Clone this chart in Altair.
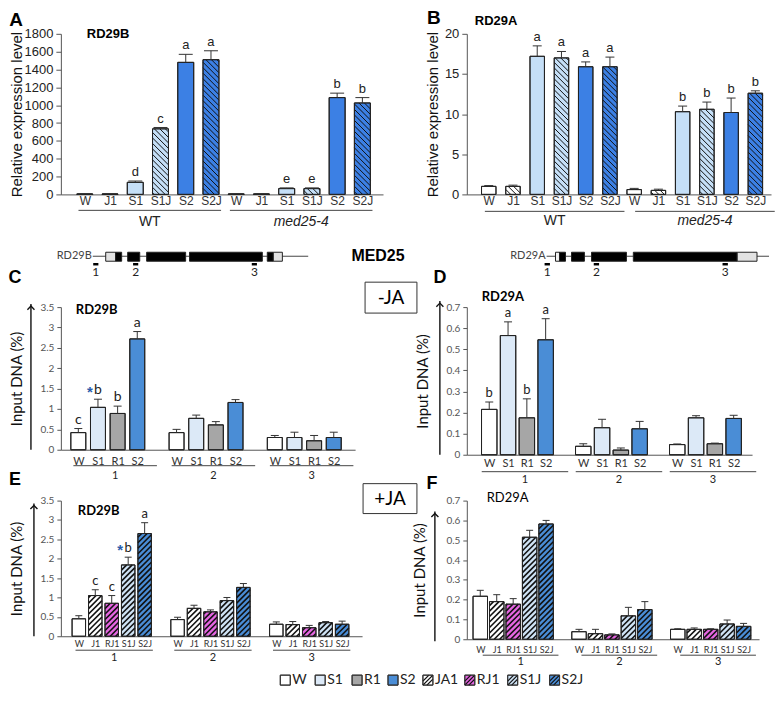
import altair as alt
import pandas as pd
import numpy as np

# ---------------- data ----------------
AB_CONDS = ["W", "J1", "S1", "S1J", "S2", "S2J"]
GENOTYPES = ["WT", "med25-4"]

A_VALS = [5, 5, 135, 735, 1480, 1510, 5, 5, 65, 65, 1085, 1025]
A_ERR = [3, 3, 15, 15, 90, 100, 3, 3, 8, 8, 50, 60]
A_LETTERS = ["", "", "d", "c", "a", "a", "", "", "e", "e", "b", "b"]

B_VALS = [1.0, 1.0, 17.2, 17.0, 15.9, 15.9, 0.6, 0.5, 10.3, 10.6, 10.2, 12.6]
B_ERR = [0.1, 0.15, 1.3, 0.8, 0.6, 1.2, 0.15, 0.15, 0.7, 0.9, 1.8, 0.3]
B_LETTERS = ["", "", "a", "a", "a", "a", "", "", "b", "b", "b", "b"]

CD_CONDS = ["W", "S1", "R1", "S2"]
REGIONS = ["1", "2", "3"]
C_VALS = [0.42, 1.04, 0.89, 2.72, 0.42, 0.77, 0.61, 1.16, 0.30, 0.30, 0.22, 0.30]
C_ERR = [0.10, 0.20, 0.18, 0.18, 0.08, 0.08, 0.08, 0.07, 0.05, 0.13, 0.13, 0.13]
C_LETTERS = ["c", "b", "b", "a"] + [""] * 8
C_STARS = [0, 1, 0, 0] + [0] * 8

D_VALS = [0.215, 0.565, 0.175, 0.545, 0.040, 0.128, 0.022, 0.123, 0.048, 0.175, 0.052, 0.172]
D_ERR = [0.035, 0.065, 0.09, 0.10, 0.012, 0.04, 0.01, 0.035, 0.003, 0.01, 0.003, 0.015]
D_LETTERS = ["b", "a", "b", "a"] + [""] * 8
D_STARS = [0] * 12

EF_CONDS = ["W", "J1", "RJ1", "S1J", "S2J"]
E_VALS = [0.45, 1.05, 0.85, 1.84, 2.65, 0.43, 0.72, 0.63, 0.92, 1.26, 0.31, 0.30, 0.22, 0.35, 0.31]
E_ERR = [0.08, 0.15, 0.20, 0.20, 0.28, 0.06, 0.08, 0.05, 0.08, 0.10, 0.06, 0.08, 0.06, 0.03, 0.08]
E_LETTERS = ["", "c", "c", "b", "a"] + [""] * 10
E_STARS = [0, 0, 0, 1, 0] + [0] * 10

F_VALS = [0.217, 0.19, 0.177, 0.515, 0.582, 0.038, 0.028, 0.022, 0.118, 0.15, 0.05, 0.05, 0.05, 0.077, 0.065]
F_ERR = [0.03, 0.035, 0.028, 0.035, 0.018, 0.012, 0.022, 0.005, 0.043, 0.04, 0.003, 0.007, 0.003, 0.02, 0.015]
F_LETTERS = [""] * 15
F_STARS = [0] * 15

LEGEND_KEYS = ["W", "S1", "R1", "S2", "JA1", "RJ1", "S1J", "S2J"]
LEGEND_COLORS = ["#ffffff", "#dce9f7", "#a6a6a6", "#4a8dd6", "#ffffff", "#e666e2", "#cfe3f5", "#4a8dd6"]
LEGEND_X = [220, 255, 292, 328, 363, 405, 448, 490]   # legend item placement (px)
AB_COLORS = {"W": "#ffffff", "J1": "#ffffff", "S1": "#c5dff7", "S1J": "#c5dff7", "S2": "#3c80e4", "S2J": "#3c80e4"}
COND_KEY = {"W": "W", "J1": "JA1", "S1": "S1", "S1J": "S1J", "S2": "S2", "S2J": "S2J", "R1": "R1", "RJ1": "RJ1"}
HATCHED = ["JA1", "RJ1", "S1J", "S2J"]

# gene models (relative position along gene line, 0-100)
RD29B_START = [6.0, 10.6, 16.2, 25.0, 44.9, 81.0, 83.8]
RD29B_END = [10.6, 13.4, 21.8, 43.1, 78.7, 83.8, 88.0]
RD29B_KIND = ["utr", "cds", "cds", "cds", "cds", "cds", "utr"]
RD29B_PRIMERS = [1.4, 19.9, 75.0]
RD29A_START = [4.0, 5.8, 11.2, 20.2, 39.0, 85.7]
RD29A_END = [5.8, 8.5, 17.0, 35.9, 85.7, 94.6]
RD29A_KIND = ["utrw", "cds", "cds", "cds", "cds", "utr"]
RD29A_PRIMERS = [0.3, 22.4, 80.3]

FONT_AB = "Liberation Sans"
FONT_CF = "Lato"
ONE = pd.DataFrame({"a": [0]})
KEY_COLOR = dict(zip(LEGEND_KEYS, LEGEND_COLORS))


def txt(text, x, y, **kw):
    return alt.Chart(ONE).mark_text(text=text, **kw).encode(x=alt.value(x), y=alt.value(y))


def arrow(x, y_top, y_bot):
    line = alt.Chart(ONE).mark_rule(color="#111", strokeWidth=1.4).encode(
        x=alt.value(x), y=alt.value(y_bot), y2=alt.value(y_top + 1))
    head = alt.Chart(ONE).mark_point(shape="M -1 1 L 0 0 L 1 1", filled=False, size=50,
                                     color="#111", strokeWidth=1.4, opacity=1).encode(
        x=alt.value(x), y=alt.value(y_top + 3))
    return [line, head]


def box(x0, x1, y0, y1):
    return alt.Chart(ONE).mark_rect(fill="white", stroke="#333", strokeWidth=1).encode(
        x=alt.value(x0), x2=alt.value(x1), y=alt.value(y0), y2=alt.value(y1))


def bar_panel(conds, gstride, vals, errs, letters, stars, cfg, groups, deco):
    nper = len(conds)
    left, width, first, stride, height = cfg["left"], cfg["width"], cfg["first"], cfg["stride"], cfg["height"]
    d0 = -(first - left) / stride
    d1 = d0 + width / stride
    ymax = cfg["ymax"]
    kx, ky = stride, height / ymax
    half = cfg["bar"] / 2 / stride
    caph = cfg["cap"] / 2 / stride
    cmap = cfg["colors"]
    recs = []
    for k, (v, e) in enumerate(zip(vals, errs)):
        g, i = divmod(k, nper)
        pos = g * gstride + i
        c = conds[i]
        recs.append(dict(pos=pos, cond=c, key=COND_KEY[c], col=cmap(c),
                         v=v, base=0.0, top=v + e, x0=pos - half, x1=pos + half,
                         c0=pos - caph, c1=pos + caph, letter=letters[k],
                         star="*" if stars[k] else ""))
    df = pd.DataFrame(recs)

    # hatch segments derived from the bars
    hrecs = []
    s = cfg["hsp"]
    for r in recs:
        if r["key"] not in HATCHED:
            continue
        X0 = (r["x0"] - d0) * kx
        X1 = (r["x1"] - d0) * kx
        H = r["v"] * ky
        if cfg["hdir"] == "/":
            c = np.floor((-X1) / s) * s
            while c <= H - X0:
                xa, xb = max(X0, -c), min(X1, H - c)
                if xb > xa:
                    hrecs.append((xa, xa + c, xb, xb + c))
                c += s
        else:
            c = np.floor(X0 / s) * s
            while c <= X1 + H:
                xa, xb = max(X0, c - H), min(X1, c)
                if xb > xa:
                    hrecs.append((xa, c - xa, xb, c - xb))
                c += s
    hdf = pd.DataFrame([dict(hx0=a / kx + d0, hy0=b / ky, hx1=cc / kx + d0, hy1=dd / ky)
                        for a, b, cc, dd in hrecs])

    xs = alt.Scale(domain=[d0, d1], nice=False, zero=False)
    ys = alt.Scale(domain=[0, ymax], nice=False, zero=True)
    font = cfg["font"]
    maxpos = int(df.pos.max())
    arr = [""] * (maxpos + 1)
    for p, c in zip(df.pos, df.cond):
        arr[int(p)] = c
    expr = "[" + ",".join("'%s'" % a for a in arr) + "][round(datum.value)]"
    xaxis = alt.Axis(values=[int(p) for p in df.pos], labelExpr=expr, title=None, ticks=False,
                     tickSize=0, grid=False, labelAngle=0, labelFlush=False, labelOverlap=False,
                     labelPadding=cfg["xpad"], labelFont=font, labelFontSize=cfg["xfs"],
                     labelColor="#333", domainColor="#555", labelBound=False)
    yaxis = alt.Axis(values=cfg["yticks"], labelExpr="'' + datum.value", title=cfg["ytitle"],
                     titleX=cfg["titlex"], titleBaseline="middle", titleFont=font,
                     titleFontSize=cfg["tfs"], titleFontWeight="normal", titleColor="#111",
                     labelFont=font, labelFontSize=cfg["yfs"], labelColor=cfg["ycol"],
                     tickSize=cfg["ytick"], tickColor="#555", domainColor="#555", grid=False,
                     labelPadding=3, labelOverlap=False, labelFlush=False, labelBound=False)
    fill = alt.Fill("col:N", scale=None)

    X = lambda f: alt.X(f, scale=xs, axis=xaxis)
    Y = lambda f: alt.Y(f, scale=ys, axis=yaxis)
    layers = [
        alt.Chart(df).mark_rect(stroke="#222", strokeWidth=1).encode(
            x=X("x0:Q"), x2="x1:Q", y=Y("v:Q"), y2="base:Q", fill=fill)
    ]
    if len(hdf):
        layers.append(alt.Chart(hdf).mark_rule(color="#111", strokeWidth=cfg["hw"]).encode(
            x=X("hx0:Q"), x2="hx1:Q", y=Y("hy0:Q"), y2="hy1:Q"))
    layers.append(alt.Chart(df).mark_rect(fillOpacity=0, stroke="#222", strokeWidth=1).encode(
        x=X("x0:Q"), x2="x1:Q", y=Y("v:Q"), y2="base:Q"))
    layers.append(alt.Chart(df).mark_rule(color="#333", strokeWidth=1).encode(
        x=X("pos:Q"), y=Y("v:Q"), y2="top:Q"))
    layers.append(alt.Chart(df).mark_rule(color="#333", strokeWidth=1).encode(
        x=X("c0:Q"), x2="c1:Q", y=Y("top:Q")))
    layers.append(alt.Chart(df).mark_text(baseline="bottom", dy=-2, font=font, fontSize=cfg["lfs"],
                                          color="#222").encode(x=X("pos:Q"), y=Y("top:Q"), text="letter:N"))
    layers.append(alt.Chart(df).mark_text(baseline="bottom", dx=-8, dy=1, fontSize=15,
                                          fontWeight="bold", color="#2a5caa").encode(
        x=X("pos:Q"), y=Y("top:Q"), text="star:N"))
    gdf = pd.DataFrame(groups)
    layers.append(alt.Chart(gdf).mark_rule(color="#444", strokeWidth=1).encode(
        x=X("gs:Q"), x2="ge:Q", y=alt.value(height + cfg["gl"])))
    for style in ["normal", "italic"]:
        sub = gdf[gdf["style"] == style]
        if len(sub):
            layers.append(alt.Chart(sub).mark_text(font=font, fontSize=cfg["gfs"], color="#222",
                                                   baseline="middle", fontStyle=style).encode(
                x=X("gc:Q"), y=alt.value(height + cfg["gt"]), text="name:N"))
    layers += deco
    return alt.layer(*layers).properties(width=width, height=height)


def groups_from(starts, ends, names, styles=None):
    out = []
    for k, (a, b, n) in enumerate(zip(starts, ends, names)):
        out.append(dict(gs=a, ge=b, gc=(a + b) / 2, name=n, style=(styles[k] if styles else "normal")))
    return out


ab_col = lambda c: AB_COLORS[c]
cf_col = lambda c: KEY_COLOR[COND_KEY[c]]

# ---------------- panels ----------------
cfgA = dict(left=60, width=323, first=84, stride=25.3, height=161, ymax=1800,
            yticks=list(range(0, 1801, 200)), bar=16, cap=14, hdir="\\", hsp=5.5, hw=1.0,
            font=FONT_AB, xfs=12, xpad=1, yfs=13, ycol="#222", ytick=5, tfs=15,
            ytitle="Relative expression level", titlex=-44, lfs=13, gl=16, gt=28, gfs=14, colors=ab_col)
A = bar_panel(AB_CONDS, 6, A_VALS, A_ERR, A_LETTERS, [0] * 12, cfgA,
              groups_from([-0.25, 5.75], [5.4, 11.4], GENOTYPES, ["normal", "italic"]),
              [txt("RD29B", 26, 0, align="left", baseline="middle", font=FONT_AB, fontSize=13, fontWeight="bold"),
               txt("A", -45, -14, align="center", baseline="middle", font=FONT_AB, fontSize=19, fontWeight="bold")])

cfgB = dict(cfgA, left=467, width=305, first=489, stride=24.3, ymax=20, yticks=[0, 5, 10, 15, 20],
            bar=14.5, cap=9, titlex=-34, gl=17, gt=27)
B = bar_panel(AB_CONDS, 6, B_VALS, B_ERR, B_LETTERS, [0] * 12, cfgB,
              groups_from([-0.16, 6.04], [5.6, 11.8], GENOTYPES, ["normal", "italic"]),
              [txt("RD29A", 8, -13, align="left", baseline="middle", font=FONT_AB, fontSize=13, fontWeight="bold"),
               txt("B", -33, -16, align="center", baseline="middle", font=FONT_AB, fontSize=19, fontWeight="bold")])

cfgC = dict(left=60, width=295, first=77.5, stride=19.7, height=143, ymax=3.5,
            yticks=[0, 0.5, 1, 1.5, 2, 2.5, 3, 3.5], bar=15, cap=8, hdir="/", hsp=5.5, hw=1.6,
            font=FONT_CF, xfs=11, xpad=6, yfs=10, ycol="#555", ytick=4, tfs=15,
            ytitle="Input DNA (%)", titlex=-44, lfs=14, gl=16, gt=26, gfs=11, colors=cf_col)
C = bar_panel(CD_CONDS, 5, C_VALS, C_ERR, C_LETTERS, C_STARS, cfgC,
              groups_from([-0.25, 4.75, 9.75], [4.0, 9.0, 14.0], REGIONS),
              [txt("RD29B", 15, 3, align="left", baseline="middle", font=FONT_CF, fontSize=13, fontWeight="bold"),
               txt("C", -46, -29, align="center", baseline="middle", font=FONT_AB, fontSize=18, fontWeight="bold"),
               box(305, 357, -25, 6),
               txt("-JA", 331, -9, align="center", baseline="middle", font=FONT_CF, fontSize=19)]
              + arrow(-30, -4, 143))

cfgD = dict(cfgC, left=467, width=286, first=489.5, stride=18.85, height=148, ymax=0.7,
            yticks=[0, 0.1, 0.2, 0.3, 0.4, 0.5, 0.6, 0.7], bar=15.5, xpad=2.5, titlex=-44,
            lfs=13, gl=17, gt=25)
D = bar_panel(CD_CONDS, 5, D_VALS, D_ERR, D_LETTERS, D_STARS, cfgD,
              groups_from([-0.4, 4.6, 9.6], [4.2, 9.2, 14.2], REGIONS),
              [txt("RD29A", 15, -10, align="left", baseline="middle", font=FONT_CF, fontSize=13, fontWeight="bold"),
               txt("D", -27, -29, align="center", baseline="middle", font=FONT_AB, fontSize=18, fontWeight="bold")]
              + arrow(-27, -7, 148))

cfgE = dict(cfgC, left=60, width=302, first=78, stride=16.5, height=136, ymax=3.5, bar=13.5,
            cap=7, xfs=9, xpad=3, titlex=-44, lfs=13, gl=14, gt=22)
E = bar_panel(EF_CONDS, 6, E_VALS, E_ERR, E_LETTERS, E_STARS, cfgE,
              groups_from([-0.2, 5.8, 11.8], [4.5, 10.5, 16.5], REGIONS),
              [txt("RD29B", 17, 10, align="left", baseline="middle", font=FONT_CF, fontSize=13, fontWeight="bold"),
               txt("E", -46, -21, align="center", baseline="middle", font=FONT_AB, fontSize=18, fontWeight="bold"),
               box(303, 357, -17, 13),
               txt("+JA", 330, -2, align="center", baseline="middle", font=FONT_CF, fontSize=19)]
              + arrow(-27, 2, 136))

cfgF = dict(cfgE, left=467, width=293, first=480.5, stride=16.5, height=139, ymax=0.7,
            yticks=[0, 0.1, 0.2, 0.3, 0.4, 0.5, 0.6, 0.7], bar=14.5, xpad=6, titlex=-47, gl=16, gt=23)
F = bar_panel(EF_CONDS, 6, F_VALS, F_ERR, F_LETTERS, F_STARS, cfgF,
              groups_from([0.15, 6.15, 12.15], [4.75, 10.75, 16.75], REGIONS),
              [txt("RD29A", 20, -3, align="left", baseline="middle", font=FONT_CF, fontSize=13),
               txt("F", -35, -17, align="center", baseline="middle", font=FONT_AB, fontSize=18, fontWeight="bold")]
              + arrow(-32, 10, 141))


def gene_panel(name, starts, ends, kinds, primers, left, width, line0_px, unit_px, extra):
    d0 = -(line0_px - left) / unit_px
    d1 = d0 + width / unit_px
    xs = alt.Scale(domain=[d0, d1], nice=False, zero=False)
    X = lambda f: alt.X(f, scale=xs, axis=None)
    fillmap = {"cds": "#000000", "utr": "#e2e2e2", "utrw": "#f4f4f4"}
    ex = pd.DataFrame(dict(s=starts, e=ends, col=[fillmap[k] for k in kinds]))
    pr = pd.DataFrame(dict(c=primers, c0=[p - 1.2 for p in primers], c1=[p + 1.2 for p in primers],
                           lab=[str(i + 1) for i in range(len(primers))]))
    gl = pd.DataFrame(dict(s=[0], e=[100]))
    layers = [
        alt.Chart(gl).mark_rule(color="#444", strokeWidth=1).encode(x=X("s:Q"), x2="e:Q", y=alt.value(16)),
        alt.Chart(ex).mark_rect(stroke="#222", strokeWidth=1).encode(
            x=X("s:Q"), x2="e:Q", y=alt.value(12), y2=alt.value(21), fill=alt.Fill("col:N", scale=None)),
        alt.Chart(pr).mark_rule(color="#000", strokeWidth=2.5).encode(x=X("c0:Q"), x2="c1:Q", y=alt.value(24)),
        alt.Chart(pr).mark_text(font=FONT_CF, fontSize=12, color="#222", baseline="middle").encode(
            x=X("c:Q"), y=alt.value(32), text="lab:N"),
        alt.Chart(gl).mark_text(text=name, align="right", baseline="middle", dx=-1, font=FONT_CF,
                                fontSize=11, color="#444").encode(x=X("s:Q"), y=alt.value(16)),
    ] + extra
    return alt.layer(*layers).properties(width=width, height=21)


GL = gene_panel("RD29B", RD29B_START, RD29B_END, RD29B_KIND, RD29B_PRIMERS, 60, 260, 92, 2.16,
                [txt("MED25", 318, 16, align="center", baseline="middle", font=FONT_AB, fontSize=16,
                     fontWeight="bold")])
GR = gene_panel("RD29A", RD29A_START, RD29A_END, RD29A_KIND, RD29A_PRIMERS, 467, 305, 547, 2.23, [])


# ---------------- legend (own cell, px-like scales) ----------------
def legend_cell(width=300):
    ldf = pd.DataFrame(dict(key=LEGEND_KEYS, col=LEGEND_COLORS, lx0=LEGEND_X,
                            lx1=[x + 10 for x in LEGEND_X], tx=[x + 12 for x in LEGEND_X],
                            ly0=[-10] * 8, ly1=[0] * 8, ty=[-5] * 8))
    segs = []
    for x0, k in zip(LEGEND_X, LEGEND_KEYS):
        if k not in HATCHED:
            continue
        for d in (-4, 0, 4):
            a, b = max(0, d), min(10, d + 10)
            segs.append(dict(sx0=x0 + a, sy0=-a + d, sx1=x0 + b, sy1=-b + d))
    sdf = pd.DataFrame(segs)
    xs = alt.Scale(domain=[0, width], nice=False, zero=False)
    ys = alt.Scale(domain=[0, 1], reverse=True, nice=False, zero=False)
    X = lambda f: alt.X(f, scale=xs, axis=None)
    Y = lambda f: alt.Y(f, scale=ys, axis=None)
    icons = alt.Chart(ldf).mark_rect(stroke="#333", strokeWidth=1).encode(
        x=X("lx0:Q"), x2="lx1:Q", y=Y("ly0:Q"), y2="ly1:Q", fill=alt.Fill("col:N", scale=None))
    hatch = alt.Chart(sdf).mark_rule(color="#111", strokeWidth=1.3).encode(
        x=X("sx0:Q"), x2="sx1:Q", y=Y("sy0:Q"), y2="sy1:Q")
    outline = alt.Chart(ldf).mark_rect(fillOpacity=0, stroke="#333", strokeWidth=1).encode(
        x=X("lx0:Q"), x2="lx1:Q", y=Y("ly0:Q"), y2="ly1:Q")
    labels = alt.Chart(ldf).mark_text(align="left", baseline="middle", font=FONT_CF, fontSize=14,
                                      color="#222").encode(x=X("tx:Q"), y=Y("ty:Q"), text="key:N")
    return alt.layer(icons, hatch, outline, labels).properties(width=width, height=1)


LEGC = legend_cell()

chart = alt.concat(A, B, GL, GR, C, D, E, F, LEGC, columns=2, spacing={"row": 46, "column": 84},
                   bounds="flush", align="each").properties(padding=0, background="white")
chart = chart.configure_view(stroke=None).configure_axis(
    labelOverlap=False, labelFlush=False, labelBound=False, grid=False)
chart.save("out.html", embed_options={"renderer": "svg", "actions": False})
